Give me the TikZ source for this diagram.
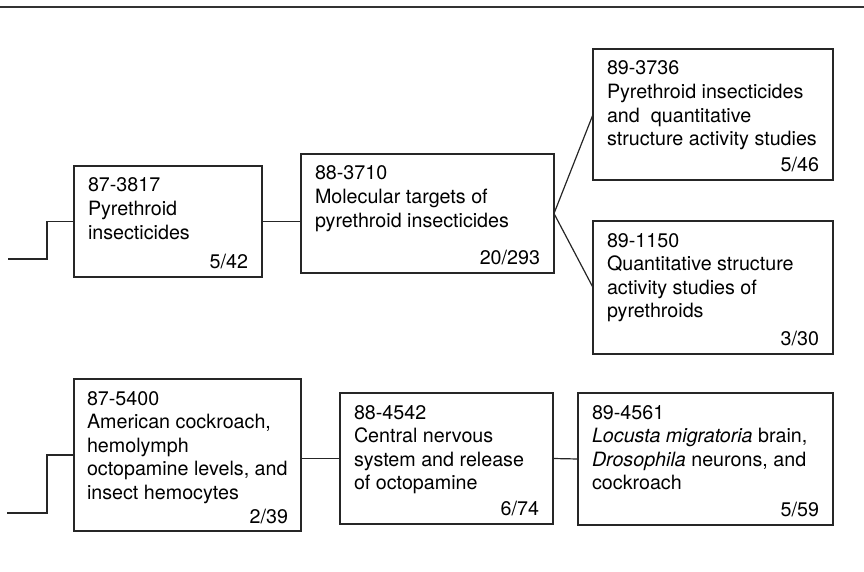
\documentclass[tikz,border=0pt]{standalone}
\usepackage{fontspec}
\setmainfont{TeX Gyre Heros}
\usepackage{tikz}
\usetikzlibrary{positioning,calc}

\tikzset{
	entry/.style={draw=black!85, line width=1.3pt, anchor=north west, outer sep=0pt,
		inner xsep=14pt, inner ysep=8pt,
		font=\fontsize{19.7pt}{23.6pt}\selectfont},
	link/.style={black!85, line width=1.2pt}
}
% height, width, lines, hits
\newcommand{\card}[4]{\parbox[t][#1][t]{#2}{\rule{0pt}{18pt}#3\par\vfill\hspace*{\fill}#4}}

\begin{document}
\begin{tikzpicture}[x=1pt, y=-1pt]
	\useasboundingbox (0,0) rectangle (864,572);
	\draw[black!80, line width=2pt] (0,7) -- (864,7);

	% upper chain
	\node[entry] (pyr) at (74,166)
		{\card{95pt}{160pt}{87-3817\\Pyrethroid\\insecticides}{5/42}};
	\node[entry] (mol) at (301,154)
		{\card{103pt}{225pt}{88-3710\\Molecular targets of\\pyrethroid insecticides}{20/293}};
	\node[entry] (pqsa) at (593,49)
		{\card{115pt}{212pt}{89-3736\\Pyrethroid insecticides\\and~ quantitative\\structure activity studies}{5/46}};
	\node[entry] (qsa) at (593,221)
		{\card{117pt}{212pt}{89-1150\\Quantitative structure\\activity studies of\\pyrethroids}{3/30}};
	\coordinate (inpyr) at (8,259);
	\draw[link] (inpyr) -- (47,259) |- (pyr.west);
	\draw[link] (pyr.east) -- (pyr.east -| mol.west);
	\draw[link] (pqsa.west) -- (mol.east) -- (qsa.west);

	% lower chain
	\node[entry, inner xsep=13pt] (roach) at (74,379)
		{\card{136pt}{201pt}{87-5400\\American cockroach,\\hemolymph\\octopamine levels, and\\insect hemocytes}{2/39}};
	\node[entry] (cns) at (340,393)
		{\card{115pt}{185pt}{88-4542\\Central nervous\\system and release\\of octopamine}{6/74}};
	\node[entry] (loc) at (578,393)
		{\card{116pt}{227pt}{89-4561\\\textit{Locusta migratoria} brain,\\\textit{Drosophila} neurons, and\\cockroach}{5/59}};
	\coordinate (inroach) at (7,513);
	\draw[link] (inroach) -- (47,513) |- (roach.west);
	\draw[link] (cns.west -| roach.east) -- (cns.west);
	\draw[link] (cns.east) -- (loc.west);
\end{tikzpicture}
\end{document}
